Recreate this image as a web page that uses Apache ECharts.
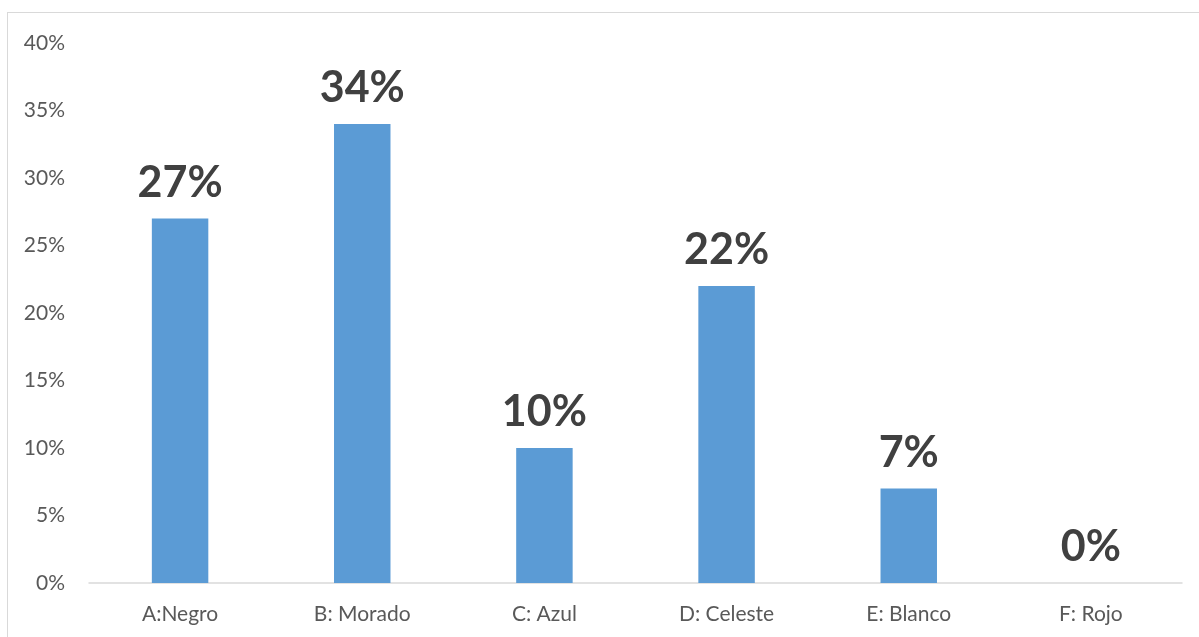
<!DOCTYPE html>
<html>
<head>
<meta charset="utf-8">
<script src="https://cdn.jsdelivr.net/npm/echarts@6/dist/echarts.min.js"></script>
<style>
  html, body { margin: 0; padding: 0; background: #fff; }
  #frame { position: absolute; left: 7px; top: 12px; width: 1200px; height: 640px;
           border: 1px solid #d9d9d9; box-sizing: border-box; }
  #chart { position: absolute; left: 0; top: 0; width: 1199px; height: 637px; }
</style>
</head>
<body>
<div id="frame"></div>
<div id="chart"></div>
<script>
// Colour preference shares
const categories = ['A:Negro', 'B: Morado', 'C: Azul', 'D: Celeste', 'E: Blanco', 'F: Rojo'];
const shares = [27, 34, 10, 22, 7, 0];

const chart = echarts.init(document.getElementById('chart'), null, { renderer: 'canvas' });
const font = 'Lato, "Open Sans", sans-serif';

chart.setOption({
  animation: false,
  grid: { left: 89, right: 17, top: 43, bottom: 54, containLabel: false },
  xAxis: {
    type: 'category',
    data: categories,
    axisLine: { show: true, lineStyle: { color: '#d9d9d9', width: 1.5 } },
    axisTick: { show: false },
    axisLabel: { color: '#595959', fontSize: 21, fontFamily: font, margin: 21 }
  },
  yAxis: {
    type: 'value',
    min: 0, max: 40, interval: 5,
    splitLine: { show: false },
    axisLine: { show: false },
    axisTick: { show: false },
    axisLabel: { color: '#595959', fontSize: 21, fontFamily: font, margin: 24,
                 formatter: v => v + '%' }
  },
  series: [{
    type: 'bar',
    data: shares,
    barWidth: '31%',
    itemStyle: { color: '#5b9bd5' },
    label: {
      show: true, position: 'top', distance: 14,
      formatter: p => p.value + '%',
      color: '#404040', fontSize: 43, fontWeight: 'bold', fontFamily: font
    }
  }]
});
</script>
</body>
</html>
